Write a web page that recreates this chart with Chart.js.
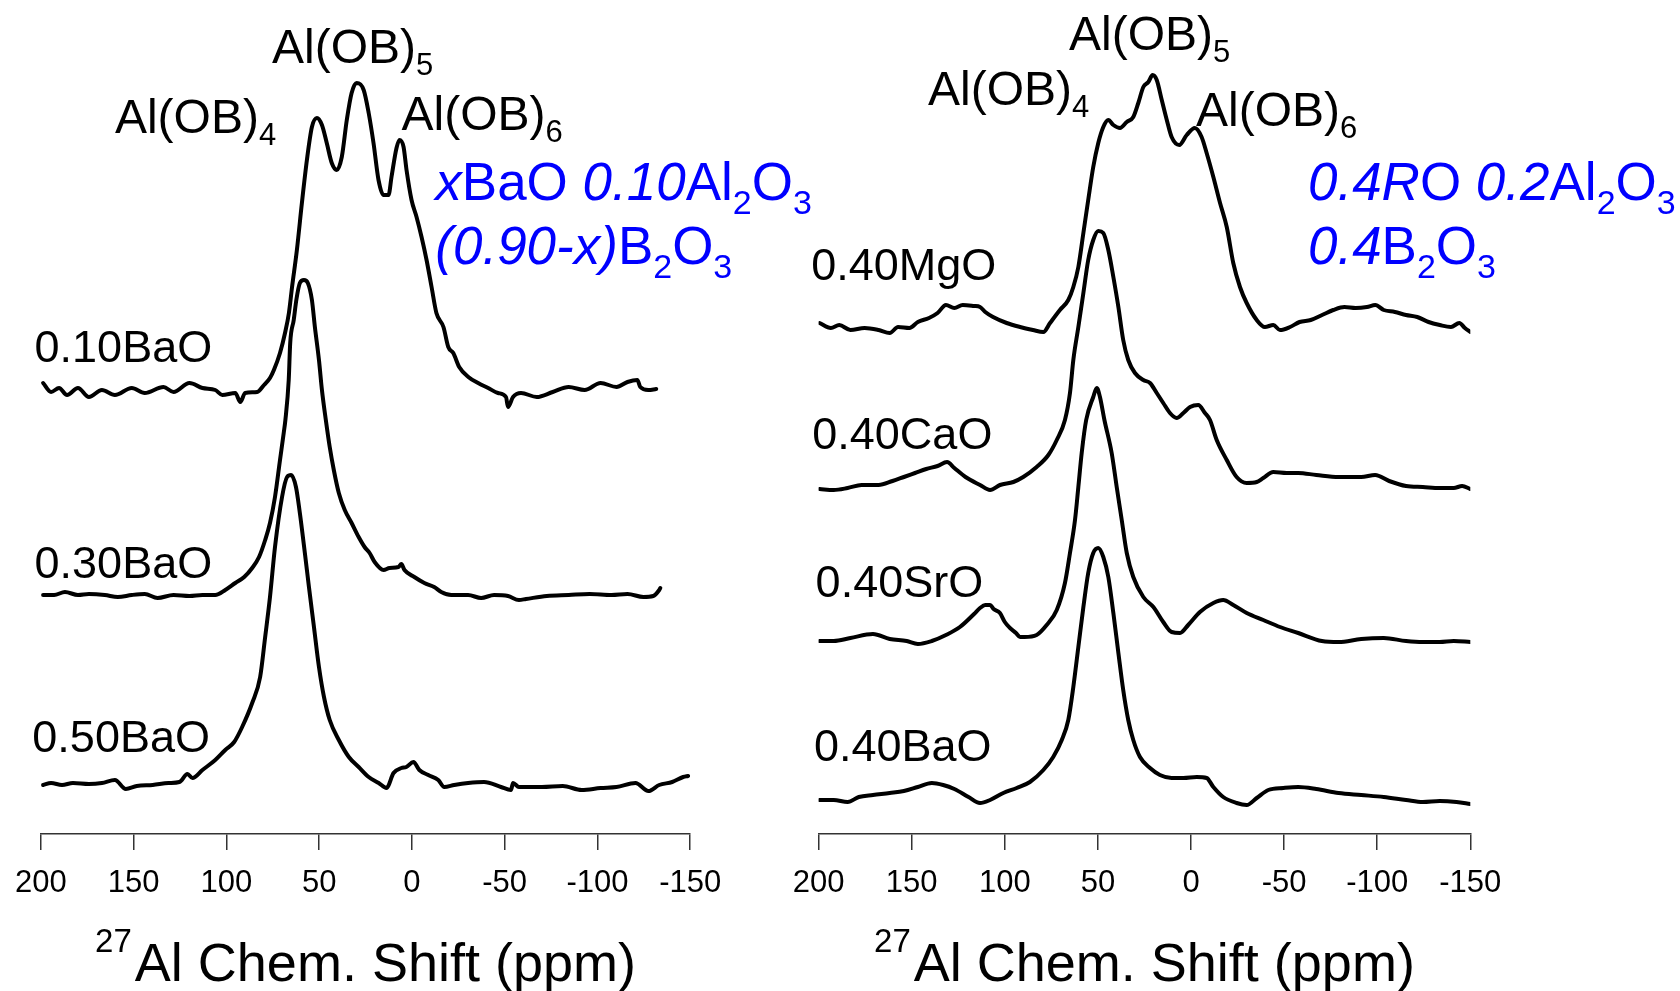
<!DOCTYPE html>
<html>
<head>
<meta charset="utf-8">
<title>27Al MAS NMR spectra</title>
<script src="https://cdn.jsdelivr.net/npm/chart.js@4/dist/chart.umd.min.js"></script>
<style>
    html, body { margin: 0; padding: 0; background: #fff; }
    #wrap { position: relative; width: 1680px; height: 991px; overflow: hidden; }
    #left { position: absolute; left: 0; top: 0; width: 840px; height: 991px; }
    #right { position: absolute; left: 760px; top: 0; width: 920px; height: 991px; }
</style>
</head>
<body>
<div id="wrap">
    <canvas id="left" width="840" height="991"></canvas>
    <canvas id="right" width="920" height="991"></canvas>
</div>
<script>
// --- Data: [chemical shift (ppm), intensity (a.u., stacked offset included)] ---
const xBa010 = [[198.8,45.1],[194.5,44.2],[190.2,44.6],[185.9,43.9],[180.0,44.6],[174.1,43.7],[167.1,44.4],[160.1,43.9],[151.0,44.6],[144.0,44.1],[133.9,44.7],[128.5,44.2],[119.9,45.1],[112.9,44.6],[106.0,44.4],[102.2,43.9],[95.2,44.1],[92.5,43.2],[89.9,44.1],[83.4,44.2],[79.7,44.9],[76.5,45.6],[74.4,46.4],[71.1,48.1],[68.4,50.1],[66.3,52.1],[64.6,54.7],[62.0,58.4],[59.3,63.1],[56.6,67.4],[53.9,70.7],[51.2,71.6],[48.5,70.9],[45.9,69.1],[43.2,67.1],[40.5,66.4],[37.8,67.7],[35.1,71.4],[32.5,74.1],[29.8,75.1],[26.0,74.4],[23.3,72.1],[20.7,69.1],[18.0,65.4],[15.3,63.9],[12.6,63.9],[11.0,65.7],[8.3,68.6],[6.7,69.4],[4.5,68.7],[2.9,66.4],[0.2,63.4],[-2.5,61.7],[-5.2,59.7],[-7.9,57.4],[-10.6,54.7],[-13.2,52.1],[-17.0,50.7],[-19.6,48.7],[-22.3,48.1],[-25.5,46.7],[-30.4,45.7],[-35.7,45.1],[-41.1,44.6],[-46.4,44.1],[-50.7,43.7],[-51.8,42.7],[-54.5,43.7],[-58.8,44.1],[-67.3,43.7],[-75.9,44.2],[-84.5,44.7],[-93.1,44.4],[-101.7,45.1],[-110.3,44.7],[-116.2,45.2],[-121.5,45.4],[-123.1,44.7],[-127.4,44.4],[-131.7,44.5]];

const xBa030 = [[198.8,23.9],[192.9,23.9],[187.0,24.2],[180.0,23.9],[174.1,24.0],[165.5,23.9],[158.5,23.7],[151.0,23.9],[144.0,24.0],[137.1,23.6],[128.5,23.9],[119.9,23.8],[112.9,23.9],[106.0,23.9],[100.6,24.4],[95.2,25.1],[90.4,25.7],[86.1,26.6],[82.4,27.7],[79.1,29.4],[76.5,31.1],[73.8,33.7],[71.1,37.4],[69.1,40.1],[68.2,41.4],[66.4,45.4],[65.6,49.1],[63.7,51.4],[62.3,53.4],[60.4,55.1],[58.2,55.4],[56.1,55.1],[53.9,53.4],[52.3,50.7],[50.1,47.4],[48.5,44.4],[46.4,41.4],[44.3,38.7],[42.1,36.4],[39.4,34.1],[36.2,32.4],[32.5,31.1],[28.7,29.7],[25.5,28.7],[22.8,28.1],[20.1,27.2],[15.3,26.4],[12.1,26.6],[7.3,26.7],[5.7,27.0],[4.0,26.4],[-1.3,25.7],[-6.7,25.1],[-12.0,24.7],[-15.8,24.2],[-21.2,23.9],[-30.3,23.9],[-37.3,23.6],[-44.3,23.9],[-51.8,23.8],[-57.7,23.4],[-61.5,23.5],[-72.7,23.8],[-84.5,23.9],[-95.8,24.0],[-107.6,23.9],[-116.2,24.0],[-124.8,23.7],[-130.1,23.8],[-133.3,24.4],[-133.9,24.6]];

const xBa050 = [[198.8,4.9],[194.5,5.1],[188.6,4.9],[182.7,5.1],[174.1,5.0],[167.1,5.1],[160.1,5.4],[154.2,4.5],[148.3,4.8],[139.7,4.9],[131.2,5.1],[125.3,5.2],[121.0,6.0],[118.3,5.6],[112.9,6.4],[106.0,7.4],[100.6,8.4],[95.8,9.2],[91.5,10.7],[86.1,13.1],[81.8,15.7],[79.1,19.7],[76.5,23.7],[73.8,28.7],[70.0,33.7],[67.3,35.7],[65.1,35.9],[62.5,34.7],[60.4,32.1],[57.7,28.1],[55.5,24.7],[52.8,20.7],[50.1,16.7],[47.4,13.7],[44.3,11.4],[39.4,9.4],[34.0,7.7],[28.7,6.7],[23.3,5.7],[17.9,5.1],[13.7,4.6],[9.9,6.1],[5.7,6.6],[3.0,6.7],[-0.8,7.2],[-4.0,6.4],[-8.8,5.9],[-14.2,5.4],[-17.4,4.7],[-22.8,4.9],[-30.3,5.1],[-38.9,5.2],[-48.0,4.7],[-53.4,4.4],[-54.5,5.1],[-57.7,4.7],[-70.1,4.7],[-81.3,4.8],[-91.5,4.4],[-101.7,4.6],[-110.3,4.7],[-120.5,5.1],[-127.5,4.3],[-133.3,4.9],[-140.3,5.2],[-146.2,5.7],[-148.9,5.8]];

const mgo040 = [[199.5,51.1],[193.4,50.6],[188.9,50.9],[182.9,50.4],[175.3,50.6],[167.8,50.4],[161.8,50.1],[157.3,50.7],[151.2,50.6],[146.7,51.2],[140.7,51.6],[136.1,52.1],[131.6,52.9],[127.1,52.6],[122.6,52.9],[116.5,52.8],[113.3,52.7],[110.5,52.2],[106.3,51.7],[99.0,51.1],[91.8,50.7],[84.9,50.4],[79.3,50.2],[75.7,51.1],[70.4,52.4],[65.9,53.4],[63.2,54.7],[60.5,56.7],[57.8,60.1],[55.2,63.4],[52.5,66.7],[49.8,69.1],[47.1,70.7],[44.4,71.4],[41.7,70.9],[38.1,70.6],[34.5,71.2],[31.0,71.7],[28.3,73.1],[25.6,74.7],[22.9,75.2],[20.6,75.9],[18.4,75.4],[15.7,73.4],[13.0,71.4],[10.4,69.7],[6.3,68.9],[2.3,69.9],[-2.1,70.6],[-5.7,69.7],[-8.4,68.1],[-12.0,65.7],[-15.6,63.1],[-19.2,60.7],[-22.7,57.1],[-26.3,54.7],[-29.9,53.1],[-35.3,51.4],[-39.7,50.7],[-44.2,50.9],[-47.8,50.4],[-53.2,50.7],[-58.3,51.2],[-64.3,51.4],[-70.4,51.9],[-76.4,52.4],[-82.4,52.7],[-88.4,52.6],[-94.5,52.7],[-99.0,52.9],[-103.5,52.4],[-109.5,52.2],[-115.5,51.9],[-121.5,51.7],[-127.6,51.2],[-133.6,50.9],[-139.6,50.7],[-144.1,51.1],[-147.1,50.6],[-150.0,50.2]];

const cao040 = [[199.5,34.5],[191.9,34.4],[184.4,34.6],[176.9,34.9],[167.8,34.9],[160.3,35.3],[154.2,35.7],[148.2,36.1],[142.2,36.5],[136.1,36.8],[131.0,37.2],[127.1,36.6],[121.1,35.7],[113.3,34.9],[107.9,34.4],[102.6,34.9],[95.4,35.2],[90.1,35.7],[82.9,36.7],[76.6,37.9],[72.1,39.4],[67.7,41.4],[65.0,44.1],[63.2,47.4],[60.5,50.7],[57.8,54.1],[55.2,57.4],[52.5,59.4],[49.8,60.3],[47.1,60.1],[44.4,58.4],[41.7,55.7],[39.0,52.7],[36.4,49.4],[33.7,47.4],[30.1,46.1],[25.6,45.4],[22.0,45.1],[18.4,44.1],[14.9,43.1],[11.3,42.1],[7.7,41.6],[4.1,42.1],[0.5,42.7],[-3.9,42.9],[-7.5,42.1],[-10.2,41.4],[-13.8,39.4],[-19.2,37.4],[-24.5,35.7],[-29.9,35.1],[-35.3,35.2],[-38.8,35.6],[-44.2,36.2],[-51.4,36.1],[-57.6,36.1],[-67.3,35.9],[-79.3,35.7],[-91.4,35.7],[-98.9,35.9],[-106.4,35.3],[-115.5,34.8],[-124.5,34.7],[-133.6,34.6],[-141.1,34.6],[-145.6,34.8],[-150.0,34.5]];

const sro040 = [[199.5,19.3],[191.9,19.3],[182.9,19.6],[170.8,20.0],[161.8,19.5],[152.7,19.3],[146.7,19.0],[139.2,19.3],[131.6,19.9],[124.1,20.7],[116.5,22.0],[113.3,22.6],[110.5,22.9],[107.9,22.9],[106.0,22.5],[102.6,22.1],[100.0,21.2],[97.2,20.6],[94.0,20.1],[91.8,19.7],[89.4,19.7],[82.9,19.9],[77.5,20.9],[72.1,22.4],[67.7,25.1],[65.0,28.1],[62.3,31.4],[60.5,34.7],[58.7,38.1],[56.3,41.4],[52.5,43.7],[50.6,44.6],[48.9,43.7],[46.5,41.4],[42.6,38.1],[39.9,34.7],[37.2,31.4],[34.5,28.1],[31.0,25.7],[25.6,23.7],[20.2,22.7],[14.9,21.2],[10.4,20.2],[5.9,20.1],[1.5,20.9],[-4.8,22.2],[-12.0,23.1],[-17.3,23.4],[-22.7,22.9],[-29.9,22.1],[-38.8,21.4],[-47.8,20.7],[-57.6,20.1],[-70.3,19.3],[-79.3,19.2],[-91.4,19.5],[-103.5,19.6],[-115.5,19.3],[-124.5,19.2],[-133.6,19.2],[-141.1,19.3],[-150.0,19.2]];

const bao040 = [[199.5,3.4],[191.9,3.4],[184.4,3.2],[178.4,3.7],[170.8,3.9],[161.8,4.1],[154.2,4.3],[146.7,4.7],[139.2,5.1],[133.1,4.9],[127.1,4.5],[119.5,3.7],[113.3,3.1],[107.9,3.4],[100.8,4.1],[93.6,4.6],[86.5,5.2],[79.3,6.4],[74.0,7.7],[69.4,9.4],[65.9,11.4],[63.2,14.7],[60.5,18.7],[57.8,22.7],[55.2,26.1],[52.5,28.1],[49.8,28.6],[47.1,27.7],[44.4,25.7],[41.7,22.1],[39.0,18.1],[36.4,14.4],[33.7,11.4],[31.0,9.4],[27.4,7.7],[22.0,6.6],[16.7,5.9],[10.4,5.6],[4.1,5.6],[-3.1,5.7],[-8.4,5.6],[-12.0,4.7],[-17.3,3.7],[-24.5,3.1],[-29.9,2.9],[-35.3,3.6],[-41.5,4.4],[-49.6,4.6],[-57.6,4.7],[-67.3,4.5],[-79.3,4.1],[-91.4,3.9],[-103.5,3.7],[-115.5,3.4],[-124.5,3.2],[-133.6,3.3],[-142.6,3.2],[-150.0,3.0]];

// Axis range and ticks (ppm)
const ppmMin = -150;
const ppmMax = 200;
const ppmStep = 50;

// --- Text annotations, anchored in data units ---
const FONT = '"Liberation Sans", Arial, Helvetica, sans-serif';
const BLUE = '#0000ff';

const leftNotes = [
    { x: 160.1, y: 70.1, size: 48, runs: [{ t: 'Al(OB)' }, { t: '4', sub: true }] },
    { x: 75.4, y: 77.1, size: 48, runs: [{ t: 'Al(OB)' }, { t: '5', sub: true }] },
    { x: 5.6, y: 70.4, size: 48, runs: [{ t: 'Al(OB)' }, { t: '6', sub: true }] },
    { x: 203.4, y: 47.2, size: 45, runs: [{ t: '0.10BaO' }] },
    { x: 203.4, y: 25.6, size: 45, runs: [{ t: '0.30BaO' }] },
    { x: 204.6, y: 8.2, size: 45, runs: [{ t: '0.50BaO' }] },
    { x: -12.6, y: 63.4, size: 53, color: BLUE, runs: [
        { t: 'x', it: true }, { t: 'BaO ' }, { t: '0.10', it: true }, { t: 'Al' }, { t: '2', sub: true }, { t: 'O' }, { t: '3', sub: true }] },
    { x: -12.6, y: 57.0, size: 53, color: BLUE, runs: [
        { t: '(0.90-x)', it: true }, { t: 'B' }, { t: '2', sub: true }, { t: 'O' }, { t: '3', sub: true }] }
];

const rightNotes = [
    { x: 141.2, y: 72.9, size: 48, runs: [{ t: 'Al(OB)' }, { t: '4', sub: true }] },
    { x: 65.5, y: 78.4, size: 48, runs: [{ t: 'Al(OB)' }, { t: '5', sub: true }] },
    { x: -2.7, y: 70.8, size: 48, runs: [{ t: 'Al(OB)' }, { t: '6', sub: true }] },
    { x: 204.0, y: 55.4, size: 45, runs: [{ t: '0.40MgO' }] },
    { x: 203.4, y: 38.5, size: 45, runs: [{ t: '0.40CaO' }] },
    { x: 201.6, y: 23.7, size: 45, runs: [{ t: '0.40SrO' }] },
    { x: 202.5, y: 7.3, size: 45, runs: [{ t: '0.40BaO' }] },
    { x: -62.8, y: 63.4, size: 53, color: BLUE, runs: [
        { t: '0.4R', it: true }, { t: 'O ' }, { t: '0.2', it: true }, { t: 'Al' }, { t: '2', sub: true }, { t: 'O' }, { t: '3', sub: true }] },
    { x: -62.8, y: 57.0, size: 53, color: BLUE, runs: [
        { t: '0.4', it: true }, { t: 'B' }, { t: '2', sub: true }, { t: 'O' }, { t: '3', sub: true }] }
];

// --- Drawing helpers ---
function drawRuns(ctx, x, y, runs, size, color) {
    let cx = x;
    runs.forEach(r => {
        const s = r.sub ? Math.round(size * 0.64) : size;
        ctx.font = (r.it ? 'italic ' : '') + s + 'px ' + FONT;
        ctx.fillStyle = color;
        ctx.fillText(r.t, cx, y + (r.sub ? size * 0.26 : 0));
        cx += ctx.measureText(r.t).width;
    });
}

const notesPlugin = {
    id: 'notes',
    afterDraw(chart, args, opts) {
        const { ctx, chartArea } = chart;
        const xs = chart.scales.x;
        const ys = chart.scales.y;
        ctx.save();
        ctx.textAlign = 'left';
        ctx.textBaseline = 'alphabetic';
        opts.items.forEach(n => {
            drawRuns(ctx, xs.getPixelForValue(n.x), ys.getPixelForValue(n.y), n.runs, n.size, n.color || '#000');
        });

        // axis title with superscript mass number
        ctx.font = '33px ' + FONT;
        const wSup = ctx.measureText('27').width;
        ctx.font = '54px ' + FONT;
        const title = 'Al Chem. Shift (ppm)';
        const wMain = ctx.measureText(title).width;
        const gap = 3;
        const start = (chartArea.left + chartArea.right) / 2 - (wSup + gap + wMain) / 2;
        ctx.fillStyle = '#000';
        ctx.font = '33px ' + FONT;
        ctx.fillText('27', start, 952);
        ctx.font = '54px ' + FONT;
        ctx.fillText(title, start + wSup + gap, 981);
        ctx.restore();
    }
};

function toPoints(arr) {
    return arr.map(p => ({ x: p[0], y: p[1] }));
}

function spectrum(arr) {
    return {
        data: toPoints(arr),
        borderColor: '#000',
        borderWidth: 4,
        pointRadius: 0,
        fill: false,
        cubicInterpolationMode: 'monotone',
        borderJoinStyle: 'round',
        borderCapStyle: 'round'
    };
}

function makeChart(id, series, notes, padLeft, padRight) {
    return new Chart(document.getElementById(id), {
        type: 'line',
        data: { datasets: series.map(spectrum) },
        options: {
            responsive: false,
            animation: false,
            devicePixelRatio: 1,
            layout: { padding: { left: padLeft, right: padRight, top: 0, bottom: 0 } },
            plugins: {
                legend: { display: false },
                tooltip: { enabled: false },
                notes: { items: notes }
            },
            scales: {
                x: {
                    type: 'linear',
                    reverse: true,
                    min: ppmMin,
                    max: ppmMax,
                    ticks: {
                        stepSize: ppmStep,
                        color: '#000',
                        font: { family: FONT, size: 31 },
                        padding: 15,
                        maxRotation: 0,
                        autoSkip: false
                    },
                    grid: {
                        display: true,
                        drawOnChartArea: false,
                        drawTicks: true,
                        tickLength: 16,
                        color: '#333',
                        lineWidth: 1.5
                    },
                    border: { display: true, color: '#333', width: 1.5 },
                    afterFit: (scale) => { scale.height = 157; }
                },
                y: { display: false, min: 0, max: 83.4 }
            }
        },
        plugins: [notesPlugin]
    });
}

makeChart('left', [xBa010, xBa030, xBa050], leftNotes, 37.7, 149.8);
makeChart('right', [mgo040, cao040, sro040, bao040], rightNotes, 58.6, 209.7);
</script>
</body>
</html>
